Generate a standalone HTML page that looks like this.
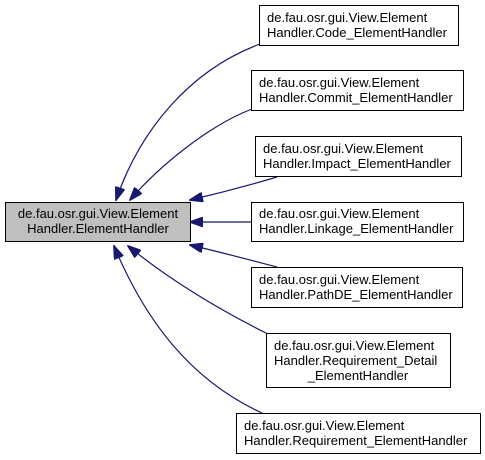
<!DOCTYPE html>
<html><head><style>
body{margin:0;background:#fff}
svg{display:block}
text{font-family:"Liberation Sans",Arial,sans-serif;font-size:13px;fill:#000}
</style></head><body>
<svg width="485" height="460" viewBox="0 0 485 460">
<defs>
<marker id="a" markerWidth="14" markerHeight="10" refX="13" refY="5" orient="auto" markerUnits="userSpaceOnUse">
<path d="M0,0 L14,5 L0,10 Z" fill="#191970" stroke="#191970"/>
</marker>
</defs>
<g fill="none" stroke="#191970" stroke-width="1.2" marker-end="url(#a)">
<path d="M260,44 C190,70 140,130 116,200"/>
<path d="M252,109 C210,125 160,165 130,200"/>
<path d="M277,177 C250,185 220,193 190,200"/>
<path d="M251,222 L190,222"/>
<path d="M277,267 C250,260 220,252 190,245"/>
<path d="M266,333 C220,310 170,280 128,246"/>
<path d="M262,413 C190,380 145,320 114,246"/>
</g>
<rect x="5.5" y="202.5" width="185" height="39" fill="#bfbfbf" stroke="#000"/>
<text x="98" y="218" text-anchor="middle">de.fau.osr.gui.View.Element</text>
<text x="98" y="233" text-anchor="middle">Handler.ElementHandler</text>
<g fill="#fff" stroke="#000">
<rect x="259.5" y="5.5" width="199" height="40"/>
<rect x="251.5" y="70.5" width="212" height="40"/>
<rect x="255.5" y="136.5" width="206" height="40"/>
<rect x="251.5" y="202.5" width="212" height="39"/>
<rect x="251.5" y="267.5" width="211" height="40"/>
<rect x="266.5" y="333.5" width="184" height="54"/>
<rect x="236.5" y="413.5" width="244" height="40"/>
</g>
<text x="267" y="22">de.fau.osr.gui.View.Element</text>
<text x="267" y="37">Handler.Code_ElementHandler</text>
<text x="259" y="87">de.fau.osr.gui.View.Element</text>
<text x="259" y="102">Handler.Commit_ElementHandler</text>
<text x="263" y="153">de.fau.osr.gui.View.Element</text>
<text x="263" y="168">Handler.Impact_ElementHandler</text>
<text x="259" y="218">de.fau.osr.gui.View.Element</text>
<text x="259" y="233">Handler.Linkage_ElementHandler</text>
<text x="259" y="284">de.fau.osr.gui.View.Element</text>
<text x="259" y="299">Handler.PathDE_ElementHandler</text>
<text x="274" y="350">de.fau.osr.gui.View.Element</text>
<text x="274" y="365">Handler.Requirement_Detail</text>
<text x="358" y="380" text-anchor="middle">_ElementHandler</text>
<text x="244" y="430">de.fau.osr.gui.View.Element</text>
<text x="244" y="445">Handler.Requirement_ElementHandler</text>
</svg>
</body></html>
